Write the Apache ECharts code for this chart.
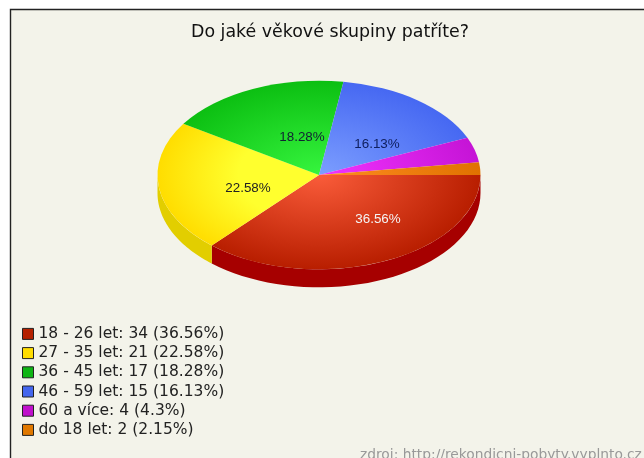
<!DOCTYPE html>
<html><head><meta charset="utf-8">
<style>html,body{margin:0;padding:0;background:#fff}#c{width:644px;height:458px}</style>
<script src="https://cdn.jsdelivr.net/npm/echarts@6/dist/echarts.min.js"></script>
</head><body><div id="c"></div>
<script>
const titleText = 'Do jaké věkové skupiny patříte?';
const creditText = 'zdroj: http://rekondicni-pobyty.vyplnto.cz';
const categories = ['18 - 26 let','27 - 35 let','36 - 45 let','46 - 59 let','60 a více','do 18 let'];
const values = [34,21,17,15,4,2];
// styling, per category: swatch, gradient centre, gradient edge, side wall
const swatchColors = ['#b52100','#ffdd00','#0fb514','#4466ee','#c010cc','#e07800'];
const centerColors = ['#fa5c3a','#ffff2e','#36f53e','#7c9eff','#f233ff','#ff8c22'];
const edgeColors   = ['#b81e00','#ffdd00','#0cbf12','#4668f2','#c514d6','#e07200'];
const holdOffsets  = [0,0.5,0,0,0,0];
const sideColors   = ['#a60000','#e2ce00','#0a9a0e','#3450c0','#a010b0','#b85c00'];
const labelColors  = ['#f4f4f4','#222','#123','#102060','#222','#222'];
// label offset from the pie centre, px (null = no label)
const labelOffsets = [[59,44],[-71,13],[-17,-38],[58,-31],null,null];

const cx=319, cy=175, rx=161.5, ry=94.3, depth=18;
const total = values.reduce((a,b)=>a+b,0);
const pct = v => parseFloat((v/total*100).toFixed(2));
const legendNames = categories.map((c,i)=>`${c}: ${values[i]} (${pct(values[i])}%)`);
let acc=0;
const spans = values.map(v=>{const s=acc/total*2*Math.PI; acc+=v; return [s,acc/total*2*Math.PI];});

function makeItem(i){
  return function(params,api){
    const [a0,a1]=spans[i];
    const children=[];
    const e0=Math.min(a1,Math.PI);
    if(a0<Math.PI){
      const top=[],bot=[];
      const n=40;
      for(let k=0;k<=n;k++){
        const t=a0+(e0-a0)*k/n;
        const x=cx+rx*Math.cos(t), y=cy+ry*Math.sin(t);
        top.push([x,y]); bot.unshift([x,y+depth]);
      }
      children.push({type:'polygon',shape:{points:top.concat(bot)},style:{fill:sideColors[i]}});
    }
    const stops=[{offset:0,color:centerColors[i]}];
    if(holdOffsets[i]>0) stops.push({offset:holdOffsets[i],color:centerColors[i]});
    stops.push({offset:1,color:edgeColors[i]});
    children.push({type:'sector',x:cx,y:cy,scaleY:ry/rx,
      shape:{cx:0,cy:0,r:rx,r0:0,startAngle:a0,endAngle:a1,clockwise:true},
      style:{fill:{type:'radial',x:0,y:0,r:rx,global:true,colorStops:stops}}});
    if(labelOffsets[i]){
      children.push({type:'text',x:cx+labelOffsets[i][0],y:cy+labelOffsets[i][1],z2:50,
        style:{text:pct(api.value(0)).toFixed(2)+'%',fill:labelColors[i],
          font:'13.4px "Liberation Sans"',align:'center',verticalAlign:'middle'}});
    }
    return {type:'group',children};
  };
}

const chart=echarts.init(document.getElementById('c'),null,{renderer:'canvas'});
chart.setOption({
  animation:false,
  backgroundColor:'#ffffff',
  graphic:[{type:'rect',z:-10,shape:{x:10.5,y:9.5,width:700,height:500},
    style:{fill:'#f3f3ea',stroke:'#222',lineWidth:1.4}}],
  title:[
    {text:titleText,left:330,top:24,textAlign:'center',padding:0,
      textStyle:{fontFamily:'DejaVu Sans',fontSize:17.4,fontWeight:'normal',color:'#111'}},
    {text:creditText,left:360,top:448.5,padding:0,
      textStyle:{fontFamily:'DejaVu Sans',fontSize:13.8,fontWeight:'normal',color:'#999'}}
  ],
  legend:{orient:'vertical',left:22,top:324.3,padding:0,itemGap:0,itemWidth:11,itemHeight:11,
    icon:'rect',selectedMode:false,data:legendNames,
    itemStyle:{borderColor:'#222',borderWidth:1},
    textStyle:{fontFamily:'DejaVu Sans',fontSize:15.5,color:'#222',lineHeight:19.2,padding:0}},
  series:categories.map((c,i)=>({
    type:'custom',name:legendNames[i],coordinateSystem:'none',
    itemStyle:{color:swatchColors[i]},
    renderItem:makeItem(i),data:[[values[i]]],silent:true
  }))
});
</script></body></html>
